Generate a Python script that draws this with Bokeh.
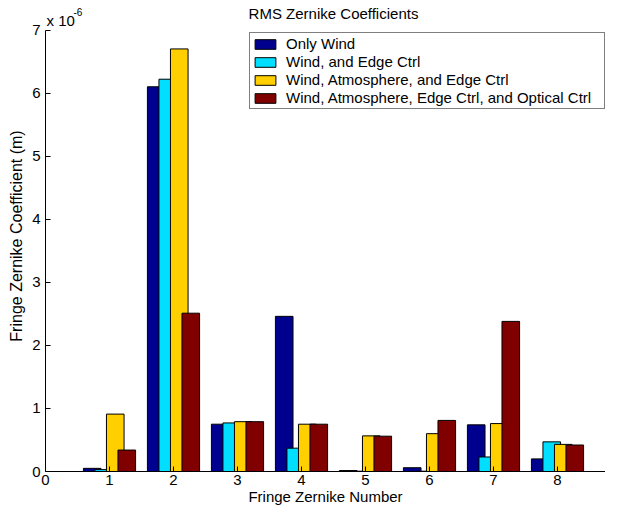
from bokeh.plotting import figure
from bokeh.models import ColumnDataSource, Legend, LegendItem, FixedTicker, Label, Range1d
from bokeh.transform import dodge
from bokeh.embed import file_html
from bokeh.resources import INLINE

# Data (values in units of 1e-6 m)
zernike_number = [1, 2, 3, 4, 5, 6, 7, 8]
only_wind = [0.05, 6.10, 0.75, 2.46, 0.015, 0.06, 0.74, 0.20]
wind_edge = [0.03, 6.22, 0.77, 0.37, 0.005, 0.005, 0.23, 0.47]
wind_atm_edge = [0.91, 6.70, 0.79, 0.75, 0.565, 0.60, 0.76, 0.43]
wind_atm_edge_opt = [0.34, 2.51, 0.79, 0.75, 0.56, 0.81, 2.38, 0.42]
series_labels = ["Only Wind", "Wind, and Edge Ctrl", "Wind, Atmosphere, and Edge Ctrl",
                 "Wind, Atmosphere, Edge Ctrl, and Optical Ctrl"]
x_ticks = [0, 1, 2, 3, 4, 5, 6, 7, 8, 9]
y_ticks = [0, 1, 2, 3, 4, 5, 6, 7]
title_text = "RMS Zernike Coefficients"
exponent_base = "x 10"
exponent_power = "-6"

colors = ["#00008F", "#00DFFF", "#FFCF00", "#800000"]
offsets = [-0.27, -0.09, 0.09, 0.27]
bar_width = 0.275
FONT = "Liberation Sans"

source = ColumnDataSource(dict(x=zernike_number, s0=only_wind, s1=wind_edge,
                               s2=wind_atm_edge, s3=wind_atm_edge_opt))

p = figure(width=605, height=507, x_range=Range1d(0, 8.75), y_range=Range1d(0, 7.468),
           output_backend="svg", toolbar_location=None,
           min_border_left=45, min_border_right=0, min_border_top=0, min_border_bottom=0)

renderers = []
for i, (off, col) in enumerate(zip(offsets, colors)):
    r = p.vbar(x=dodge("x", off), top="s%d" % i, width=bar_width, bottom=0,
               source=source, fill_color=col, line_color="black", line_width=1)
    renderers.append(r)

p.xgrid.visible = False
p.ygrid.visible = False
p.outline_line_color = None

p.xaxis.ticker = FixedTicker(ticks=x_ticks)
p.yaxis.ticker = FixedTicker(ticks=y_ticks)
p.yaxis.bounds = (0, 7)
p.xaxis.bounds = (0, 9)
for ax in (p.xaxis, p.yaxis):
    ax.major_tick_in = 5
    ax.major_tick_out = 0
    ax.minor_tick_in = 0
    ax.minor_tick_out = 0
    ax.axis_line_color = "black"
    ax.major_tick_line_color = "black"
    ax.major_label_text_font = FONT
    ax.major_label_text_font_size = "15px"
    ax.major_label_text_color = "black"
    ax.axis_label_text_font = FONT
    ax.axis_label_text_font_style = "normal"
    ax.axis_label_text_color = "black"

p.xaxis.major_label_standoff = 3
p.yaxis.major_label_standoff = 5
p.xaxis.axis_label = "Fringe Zernike Number"
p.xaxis.axis_label_text_font_size = "15px"
p.xaxis.axis_label_standoff = 0
p.yaxis.axis_label = "Fringe Zernike Coefficient (m)"
p.yaxis.axis_label_text_font_size = "16px"
p.yaxis.axis_label_standoff = 4

# title and exponent labels (inside the frame's top margin)
p.add_layout(Label(x=4.5, y=7, x_offset=0, y_offset=17, text=title_text,
                   text_align="center", text_baseline="alphabetic",
                   text_font=FONT, text_font_size="15px", text_color="black"))
p.add_layout(Label(x=0, y=7, x_offset=1, y_offset=10, text=exponent_base,
                   text_baseline="alphabetic",
                   text_font=FONT, text_font_size="15px", text_color="black"))
p.add_layout(Label(x=0, y=7, x_offset=28, y_offset=18, text=exponent_power,
                   text_baseline="alphabetic",
                   text_font=FONT, text_font_size="10px", text_color="black"))

items = [LegendItem(label=lab, renderers=[r]) for lab, r in zip(series_labels, renderers)]
legend = Legend(items=items, location=(204, 362))
legend.label_text_font = FONT
legend.label_text_font_size = "15px"
legend.label_text_color = "black"
legend.glyph_width = 26
legend.glyph_height = 12
legend.label_standoff = 8
legend.label_height = 15
legend.label_width = 316
legend.spacing = 1
legend.padding = 2
legend.margin = 0
legend.border_line_color = "black"
legend.border_line_width = 1
legend.background_fill_alpha = 1
p.add_layout(legend)

open("out.html", "w").write(file_html(p, INLINE))
